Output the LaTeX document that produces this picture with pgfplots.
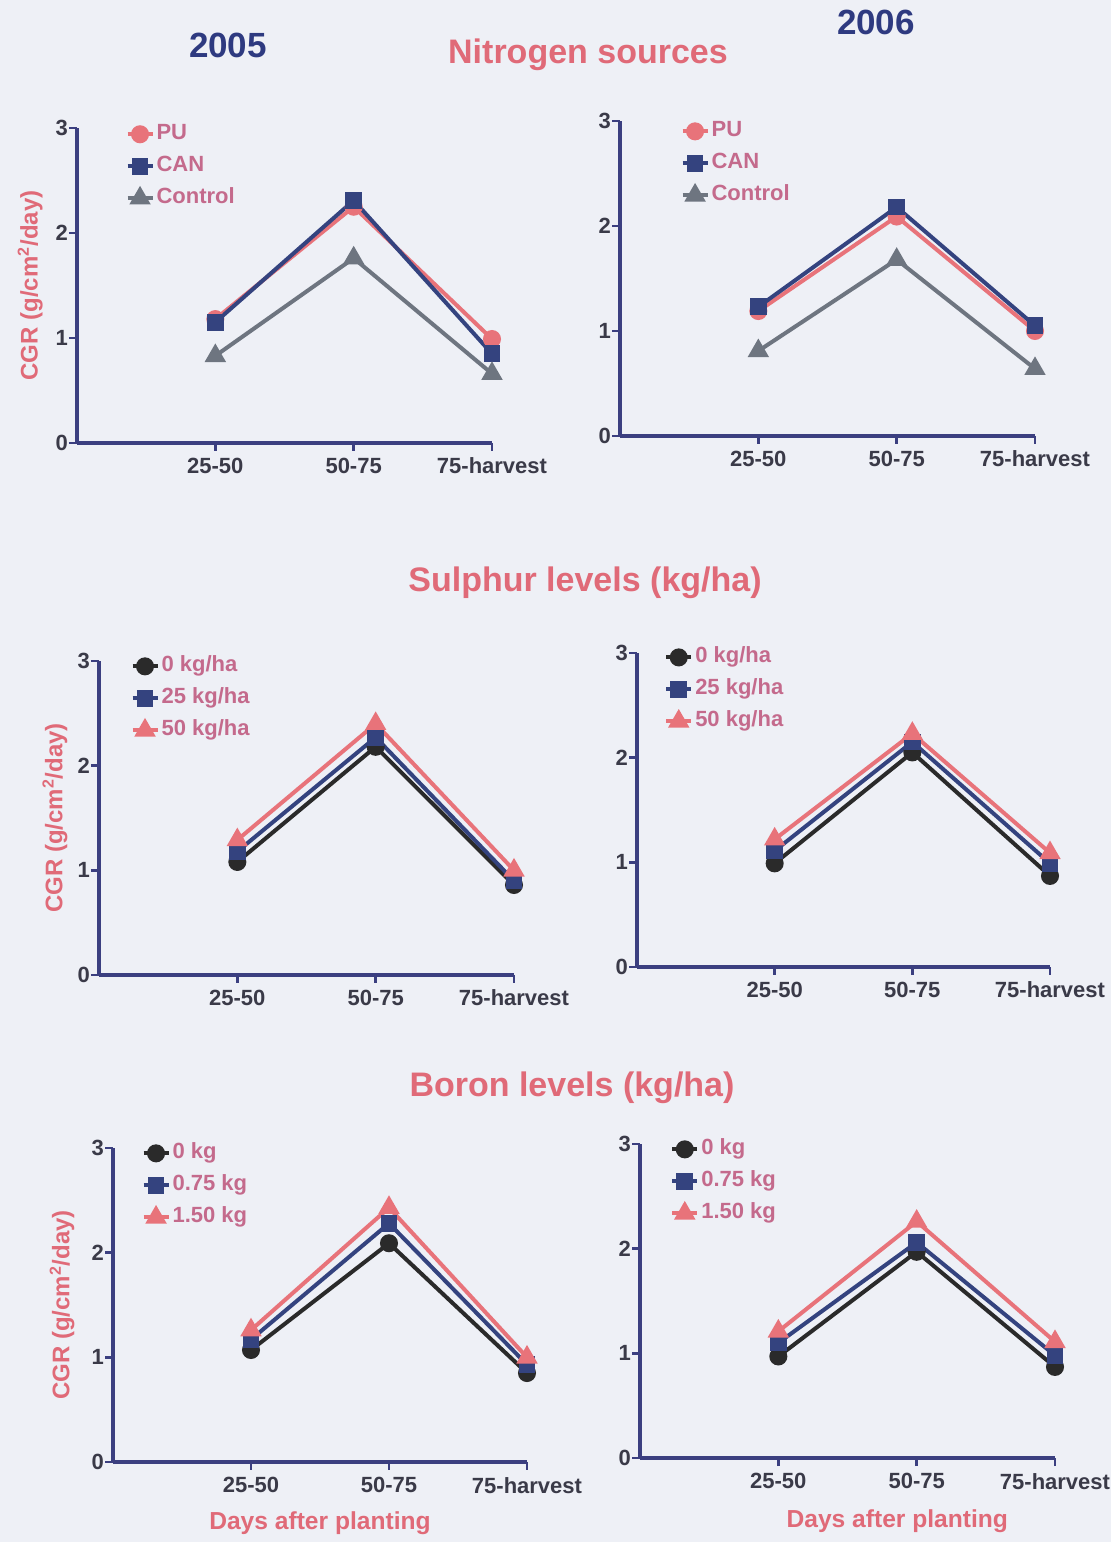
\documentclass[border=0pt]{standalone}
\usepackage{fontspec}
\setmainfont{Liberation Sans}
\usepackage{pgfplots}
\pgfplotsset{compat=1.18}

\definecolor{bg}{HTML}{EEF0F6}
\definecolor{axisblue}{HTML}{3B3F80}
\definecolor{ticktext}{HTML}{3A3A48}
\definecolor{titlepink}{HTML}{E06A78}
\definecolor{legpink}{HTML}{C46A8C}
\definecolor{yearblue}{HTML}{2E3A80}
\definecolor{serpink}{HTML}{E8737A}
\definecolor{sernavy}{HTML}{34437F}
\definecolor{sergrey}{HTML}{6E7580}
\definecolor{serblack}{HTML}{2A2A2A}

\pgfplotsset{
  cgr/.style={
    width=207.5pt, height=157.5pt, scale only axis,
    xmin=0, xmax=3, ymin=0, ymax=3,
    xtick={1,2,3}, xticklabels={25-50,50-75,75-harvest},
    ytick={0,1,2,3},
    axis x line*=bottom, axis y line*=left,
    axis line style={line width=1.8pt, draw=axisblue, -},
    tick style={line width=1.4pt, draw=axisblue},
    tick align=outside, major tick length=4pt,
    ticklabel style={font=\fontsize{11}{12}\selectfont\bfseries, text=ticktext},
    yticklabel style={xshift=3pt},
    /pgf/number format/assume math mode=true,
    clip=false,
    ylabel style={anchor=center, font=\fontsize{12}{14}\selectfont\bfseries, text=titlepink},
    xlabel style={anchor=center, font=\fontsize{12.3}{14}\selectfont\bfseries, text=titlepink},
    legend cell align=left,
    legend style={draw=none, fill=none, anchor=north west, inner sep=0pt,
      font=\fontsize{11}{12}\selectfont\bfseries, text=legpink, row sep=3.5pt,
      nodes={inner sep=1pt, text height=8pt, text depth=2.5pt}},
    legend image code/.code={
      \draw[mark repeat=2, mark phase=2, #1] plot coordinates {(0pt,0pt) (6.25pt,0pt) (12.5pt,0pt)};},
    every axis plot/.append style={line width=2pt},
  },
  spu/.style={serpink, mark=*, mark size=3.5pt, mark options={solid, fill=serpink}},
  scan/.style={sernavy, mark=square*, mark size=3.2pt, mark options={solid, fill=sernavy}},
  sctl/.style={sergrey, mark=triangle*, mark size=4.2pt, mark options={solid, fill=sergrey}},
  szero/.style={serblack, mark=*, mark size=3.5pt, mark options={solid, fill=serblack}},
  smid/.style={sernavy, mark=square*, mark size=3.2pt, mark options={solid, fill=sernavy}},
  shigh/.style={serpink, mark=triangle*, mark size=4.2pt, mark options={solid, fill=serpink}},
}

\begin{document}
\begin{tikzpicture}
\fill[bg] (0,0) rectangle (555.5pt,771pt);

\node[text=yearblue, font=\fontsize{17.5}{20}\selectfont\bfseries] at (114pt,748.5pt) {2005};
\node[text=yearblue, font=\fontsize{17.5}{20}\selectfont\bfseries] at (438pt,760pt) {2006};
\node[text=titlepink, font=\fontsize{17}{20}\selectfont\bfseries] at (294pt,743.5pt) {Nitrogen sources};
\node[text=titlepink, font=\fontsize{17}{20}\selectfont\bfseries] at (292.5pt,479.5pt) {Sulphur levels (kg/ha)};
\node[text=titlepink, font=\fontsize{17}{20}\selectfont\bfseries] at (286pt,227pt) {Boron levels (kg/ha)};

% Nitrogen sources, 2005
\begin{axis}[cgr, at={(38.5pt,549.5pt)}, anchor=south west,
  ylabel={CGR (g/cm\textsuperscript{2}/day)},
  ylabel style={at={(axis description cs:-0.113,0.5)}},
  legend style={at={(axis description cs:0.116,1.021)}}]
\addplot[spu] coordinates {(1,1.18) (2,2.25) (3,0.99)};
\addplot[scan] coordinates {(1,1.15) (2,2.31) (3,0.85)};
\addplot[sctl] coordinates {(1,0.83) (2,1.76) (3,0.66)};
\legend{PU,CAN,Control}
\end{axis}

% Nitrogen sources, 2006
\begin{axis}[cgr, at={(310pt,553pt)}, anchor=south west,
  legend style={at={(axis description cs:0.145,1.008)}}]
\addplot[spu] coordinates {(1,1.19) (2,2.09) (3,1.00)};
\addplot[scan] coordinates {(1,1.23) (2,2.18) (3,1.05)};
\addplot[sctl] coordinates {(1,0.81) (2,1.68) (3,0.64)};
\legend{PU,CAN,Control}
\end{axis}

% Sulphur levels, 2005
\begin{axis}[cgr, at={(49.5pt,283.5pt)}, anchor=south west, height=157pt,
  ylabel={CGR (g/cm\textsuperscript{2}/day)},
  ylabel style={at={(axis description cs:-0.106,0.5)}},
  legend style={at={(axis description cs:0.075,1.024)}}]
\addplot[szero] coordinates {(1,1.08) (2,2.18) (3,0.86)};
\addplot[smid] coordinates {(1,1.18) (2,2.27) (3,0.90)};
\addplot[shigh] coordinates {(1,1.29) (2,2.40) (3,1.00)};
\legend{0 kg/ha,25 kg/ha,50 kg/ha}
\end{axis}

% Sulphur levels, 2006
\begin{axis}[cgr, at={(318.5pt,287.5pt)}, anchor=south west, width=206.5pt, height=157pt,
  legend style={at={(axis description cs:0.065,1.027)}}]
\addplot[szero] coordinates {(1,0.99) (2,2.05) (3,0.87)};
\addplot[smid] coordinates {(1,1.11) (2,2.15) (3,0.99)};
\addplot[shigh] coordinates {(1,1.22) (2,2.23) (3,1.09)};
\legend{0 kg/ha,25 kg/ha,50 kg/ha}
\end{axis}

% Boron levels, 2005
\begin{axis}[cgr, at={(56.5pt,40pt)}, anchor=south west, width=207pt, height=157pt,
  ylabel={CGR (g/cm\textsuperscript{2}/day)},
  ylabel style={at={(axis description cs:-0.123,0.5)}},
  xlabel={Days after planting},
  xlabel style={at={(axis description cs:0.5,-0.194)}},
  legend style={at={(axis description cs:0.068,1.024)}}]
\addplot[szero] coordinates {(1,1.07) (2,2.09) (3,0.85)};
\addplot[smid] coordinates {(1,1.17) (2,2.28) (3,0.93)};
\addplot[shigh] coordinates {(1,1.26) (2,2.43) (3,1.00)};
\legend{0 kg,0.75 kg,1.50 kg}
\end{axis}

% Boron levels, 2006
\begin{axis}[cgr, at={(320pt,42pt)}, anchor=south west, height=157pt,
  xlabel={Days after planting},
  xlabel style={at={(axis description cs:0.62,-0.2)}},
  legend style={at={(axis description cs:0.072,1.024)}}]
\addplot[szero] coordinates {(1,0.97) (2,1.97) (3,0.87)};
\addplot[smid] coordinates {(1,1.10) (2,2.06) (3,0.98)};
\addplot[shigh] coordinates {(1,1.21) (2,2.26) (3,1.11)};
\legend{0 kg,0.75 kg,1.50 kg}
\end{axis}

\pgfresetboundingbox
\useasboundingbox (0,0) rectangle (555.5pt,771pt);
\end{tikzpicture}
\end{document}
